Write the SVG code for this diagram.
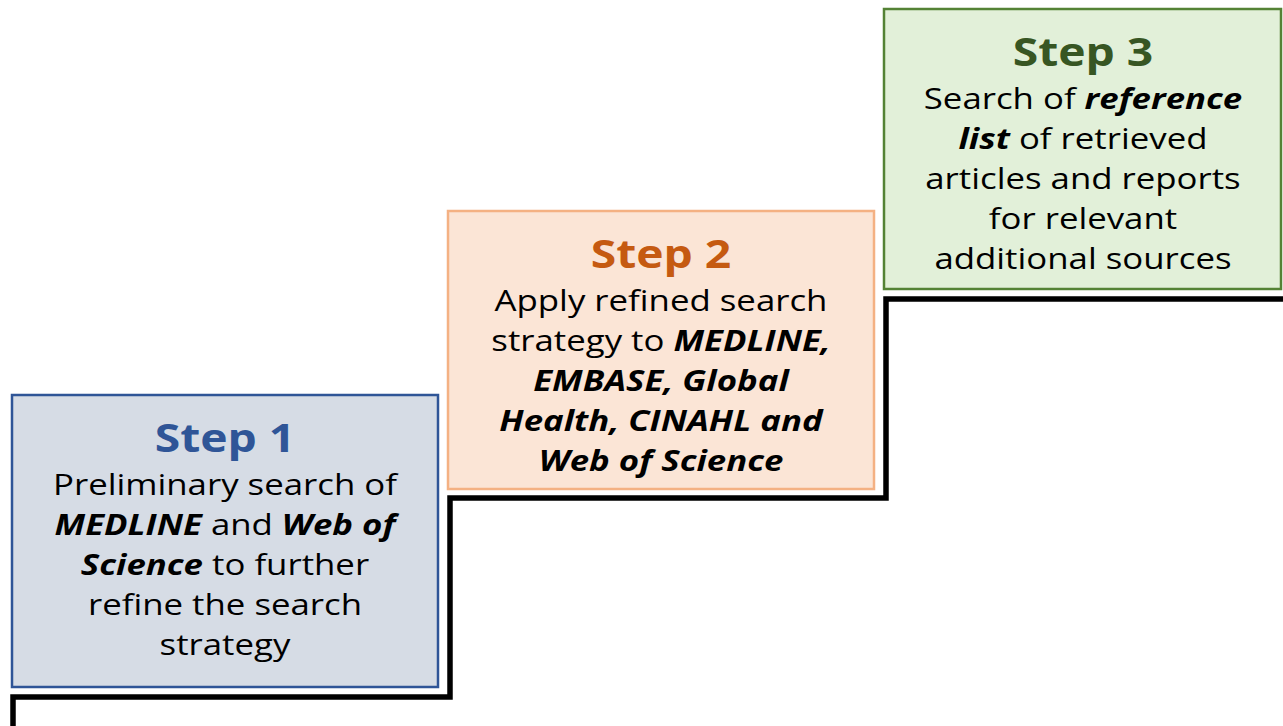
<svg xmlns="http://www.w3.org/2000/svg" width="1283" height="726" viewBox="0 0 1283 726">
<style>
.t{font-family:"Open Sans","Liberation Sans",sans-serif;font-size:29px;fill:#000;text-anchor:middle}
.h{font-family:"Open Sans","Liberation Sans",sans-serif;font-size:38.5px;font-weight:bold;text-anchor:middle}
.bi{font-weight:bold;font-style:italic}
</style>
<rect width="1283" height="726" fill="#fff"/>
<g id="connectors">
<polyline points="13,726 13,697 450,697 450,498 886,498 886,299 1283,299" fill="none" stroke="#000" stroke-width="5.5"/>
</g>
<g id="step1">
<rect x="12" y="395" width="426" height="292" fill="#D6DCE5" stroke="#2F5597" stroke-width="2.5"/>
<g transform="matrix(1.2,0,0,1,-45,0)">
<text class="h" x="225" y="452" fill="#2F5597">Step 1</text>
<text class="t" x="225" y="495">Preliminary search of</text>
<text class="t" x="225" y="535"><tspan class="bi">MEDLINE</tspan> and <tspan class="bi">Web of</tspan></text>
<text class="t" x="225" y="575"><tspan class="bi">Science</tspan> to further</text>
<text class="t" x="225" y="615">refine the search</text>
<text class="t" x="225" y="655">strategy</text>
</g>
</g>
<g id="step2">
<rect x="448" y="211" width="426" height="278" fill="#FBE5D6" stroke="#F4B183" stroke-width="2.5"/>
<g transform="matrix(1.2,0,0,1,-132.2,0)">
<text class="h" x="661" y="268" fill="#C55A11">Step 2</text>
<text class="t" x="661" y="311">Apply refined search</text>
<text class="t" x="661" y="351">strategy to <tspan class="bi">MEDLINE,</tspan></text>
<text class="t bi" x="661" y="391">EMBASE, Global</text>
<text class="t bi" x="661" y="431">Health, CINAHL and</text>
<text class="t bi" x="661" y="471">Web of Science</text>
</g>
</g>
<g id="step3">
<rect x="884" y="9" width="397" height="280" fill="#E2F0D9" stroke="#548235" stroke-width="2.5"/>
<g transform="matrix(1.2,0,0,1,-216.6,0)">
<text class="h" x="1083" y="66" fill="#375623">Step 3</text>
<text class="t" x="1083" y="109">Search of <tspan class="bi">reference</tspan></text>
<text class="t" x="1083" y="149"><tspan class="bi">list</tspan> of retrieved</text>
<text class="t" x="1083" y="189">articles and reports</text>
<text class="t" x="1083" y="229">for relevant</text>
<text class="t" x="1083" y="269">additional sources</text>
</g>
</g>
</svg>
